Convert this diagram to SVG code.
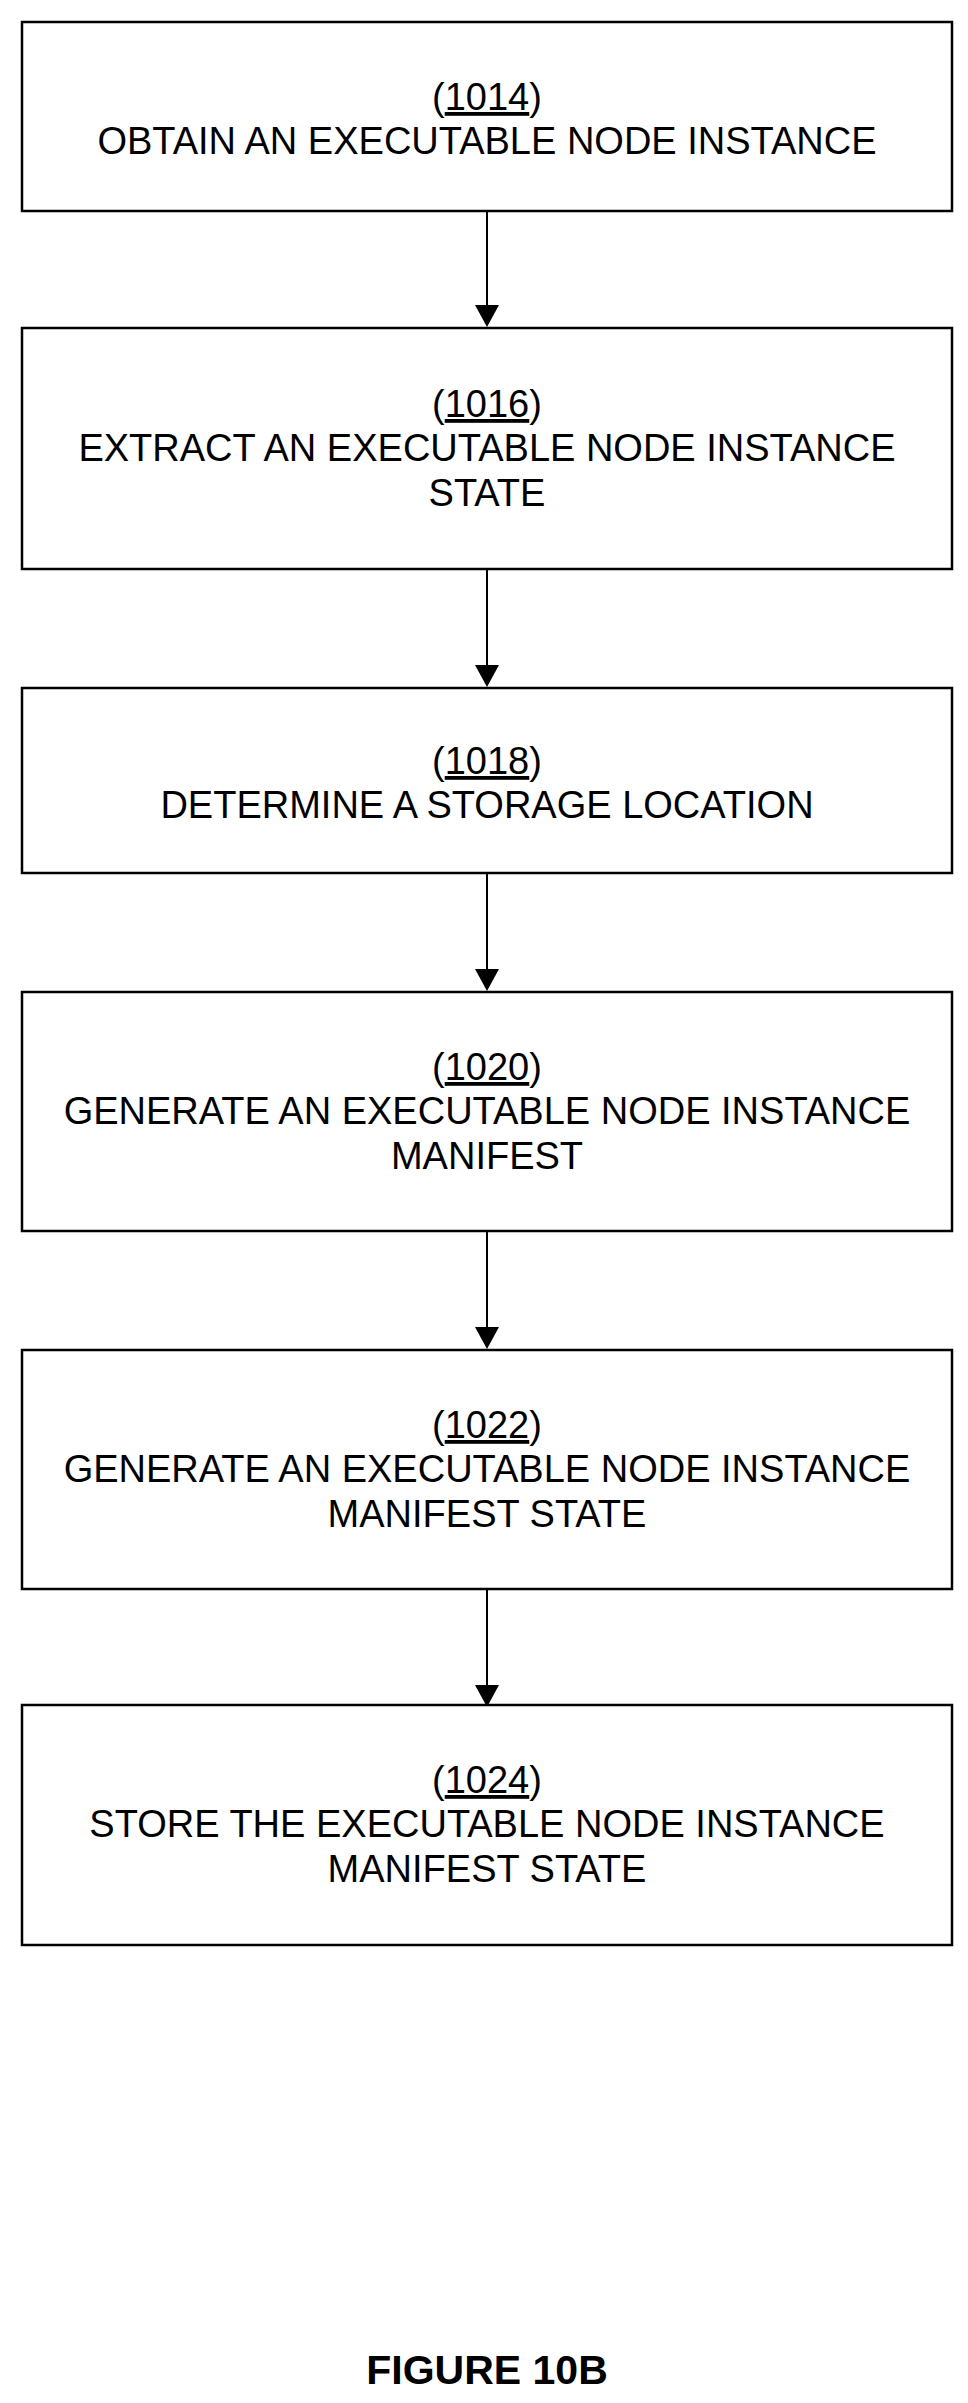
<svg xmlns="http://www.w3.org/2000/svg" width="968" height="2403" viewBox="0 0 968 2403">
<style>
.b{fill:#fff;stroke:#000;stroke-width:2.5}
.t{font-family:"Liberation Sans",Arial,sans-serif;font-size:38px;text-anchor:middle;fill:#000}
.l{stroke:#000;stroke-width:2}
</style>
<rect width="968" height="2403" fill="#fff"/>
<g id="connectors">
<line class="l" x1="487" y1="211" x2="487" y2="310"/><path d="M475,305 L499,305 L487,327 Z"/>
<line class="l" x1="487" y1="569" x2="487" y2="670"/><path d="M475,665 L499,665 L487,687 Z"/>
<line class="l" x1="487" y1="873" x2="487" y2="974"/><path d="M475,969 L499,969 L487,991 Z"/>
<line class="l" x1="487" y1="1231" x2="487" y2="1332"/><path d="M475,1327 L499,1327 L487,1349 Z"/>
<line class="l" x1="487" y1="1589" x2="487" y2="1690"/><path d="M475,1685 L499,1685 L487,1707 Z"/>
</g>
<g id="n1014"><rect class="b" x="22" y="22" width="930" height="189"/>
<text class="t" x="487" y="110">(<tspan text-decoration="underline">1014</tspan>)</text>
<text class="t" x="487" y="154">OBTAIN AN EXECUTABLE NODE INSTANCE</text></g>
<g id="n1016"><rect class="b" x="22" y="328" width="930" height="241"/>
<text class="t" x="487" y="417">(<tspan text-decoration="underline">1016</tspan>)</text>
<text class="t" x="487" y="461">EXTRACT AN EXECUTABLE NODE INSTANCE</text>
<text class="t" x="487" y="506">STATE</text></g>
<g id="n1018"><rect class="b" x="22" y="688" width="930" height="185"/>
<text class="t" x="487" y="774">(<tspan text-decoration="underline">1018</tspan>)</text>
<text class="t" x="487" y="818">DETERMINE A STORAGE LOCATION</text></g>
<g id="n1020"><rect class="b" x="22" y="992" width="930" height="239"/>
<text class="t" x="487" y="1080">(<tspan text-decoration="underline">1020</tspan>)</text>
<text class="t" x="487" y="1124">GENERATE AN EXECUTABLE NODE INSTANCE</text>
<text class="t" x="487" y="1169">MANIFEST</text></g>
<g id="n1022"><rect class="b" x="22" y="1350" width="930" height="239"/>
<text class="t" x="487" y="1438">(<tspan text-decoration="underline">1022</tspan>)</text>
<text class="t" x="487" y="1482">GENERATE AN EXECUTABLE NODE INSTANCE</text>
<text class="t" x="487" y="1527">MANIFEST STATE</text></g>
<g id="n1024"><rect class="b" x="22" y="1705" width="930" height="240"/>
<text class="t" x="487" y="1793">(<tspan text-decoration="underline">1024</tspan>)</text>
<text class="t" x="487" y="1837">STORE THE EXECUTABLE NODE INSTANCE</text>
<text class="t" x="487" y="1882">MANIFEST STATE</text></g>
<text class="t" x="487" y="2384" style="font-weight:bold;font-size:41px">FIGURE 10B</text>
</svg>
